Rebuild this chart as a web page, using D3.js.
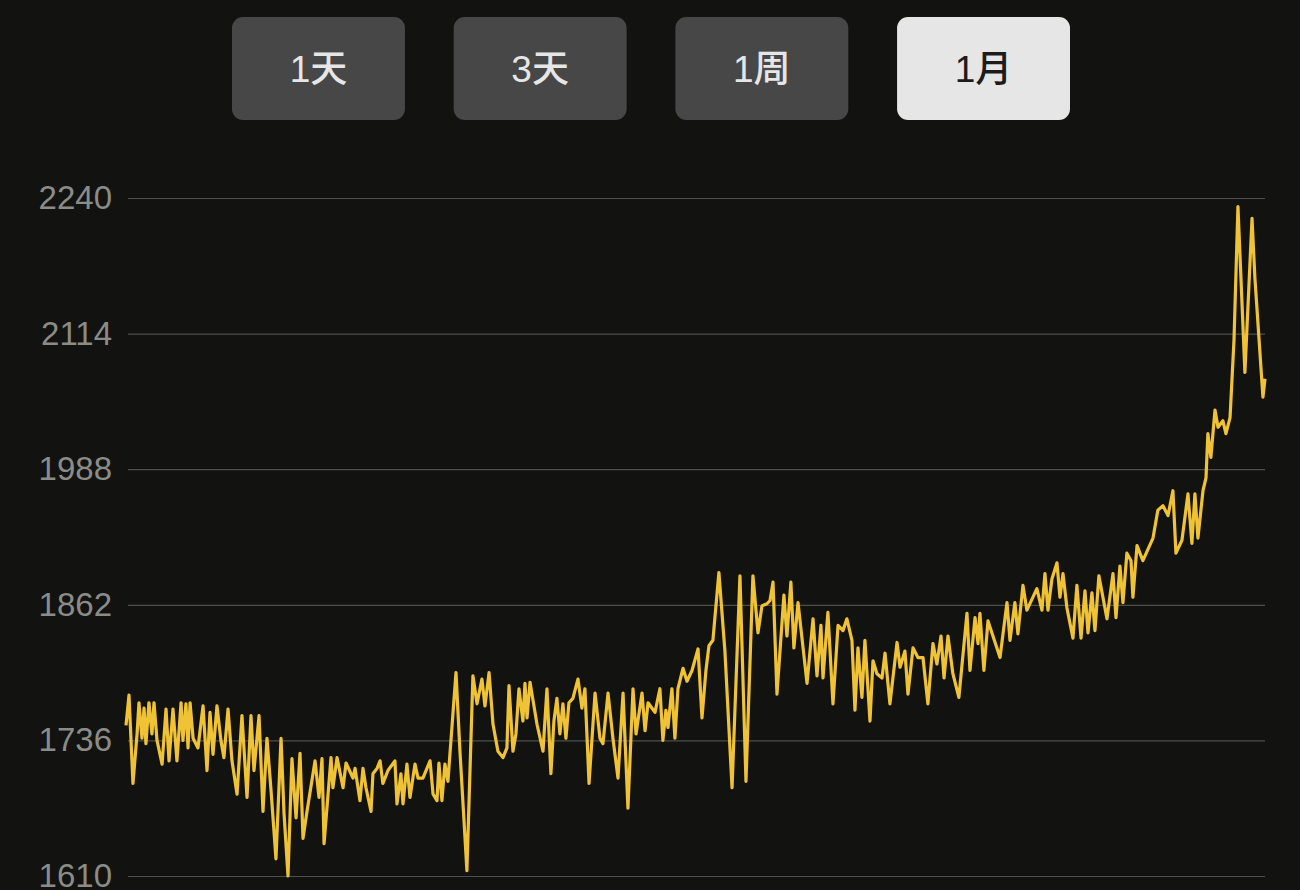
<!DOCTYPE html>
<html><head><meta charset="utf-8">
<script src="https://cdn.jsdelivr.net/npm/d3@7"></script>
<style>
html,body{margin:0;padding:0;background:#121310;}
svg{display:block;}
</style></head>
<body>
<svg id="c" width="1300" height="890"></svg>
<script>
const rangeLabels = ["1天", "3天", "1周", "1月"];
const activeRange = "1月";
const yTicks = [1610, 1736, 1862, 1988, 2114, 2240];
const hours = [0,1.9,4.4,7.0,8.2,10.1,11.4,12.6,14.5,16.4,17.7,19.6,22.8,25.3,27.2,29.7,32.2,34.8,36.0,37.9,39.2,40.5,42.4,45.5,48.7,51.2,53.1,55.0,57.5,60.0,61.9,64.5,67.0,70.2,73.3,76.5,79.0,80.9,84.1,86.6,89.1,91.7,94.8,98.0,99.9,102.4,104.9,107.5,110.0,111.9,114.4,119.5,122.0,123.9,125.2,129.6,130.8,133.4,137.2,139.1,143.5,144.8,147.9,149.8,151.7,154.9,156.1,158.7,160.6,162.4,165.6,170.0,171.3,173.8,175.1,177.6,179.5,182.7,184.6,187.7,192.2,194.1,196.6,197.8,199.7,201.6,203.5,208.6,211.1,215.5,219.3,221.9,225.0,226.9,229.5,232.0,235.1,238.3,240.8,242.1,244.6,246.5,248.4,250.9,252.2,253.5,255.4,259.8,263.6,266.1,268.6,270.5,272.4,274.3,276.2,278.1,280.0,282.5,285.7,288.2,290.1,292.7,296.5,299.6,301.5,304.7,307.8,311.0,314.2,317.3,320.5,322.4,326.2,328.1,330.0,334.4,337.5,339.4,341.3,342.6,345.1,347.0,348.9,352.1,354.6,357.8,361.6,364.1,366.6,368.5,371.0,374.8,378.6,383.1,388.1,391.9,396.3,399.5,402.0,405.2,407.1,409.0,411.5,415.9,417.8,420.3,422.2,424.8,430.5,434.3,436.8,439.3,440.6,443.7,446.9,450.1,453.2,455.7,458.9,460.8,462.7,465.2,467.1,470.3,472.2,474.7,477.9,479.8,482.9,487.4,489.3,492.4,494.3,497.5,500.6,503.8,506.9,510.1,512.6,515.2,517.1,519.6,522.7,526.5,531.6,533.5,536.7,538.6,539.8,542.3,544.9,552.5,556.9,558.8,561.9,563.8,567.0,569.5,575.8,579.0,580.9,582.8,585.3,588.5,590.4,592.3,594.8,598.6,601.1,603.7,606.2,608.1,610.6,612.5,615.0,620.1,623.9,625.8,628.3,630.2,632.7,635.3,636.5,639.1,642.8,649.2,652.3,655.5,658.7,661.8,663.7,667.5,671.3,673.8,675.7,677.6,680.8,682.7,683.9,685.8,688.4,690.3,693.4,695.3,697.9,700.4,702.9,707.3,711.8,713.6,718.7,720.0];
const prices = [1750,1778,1696,1742,1771,1738,1766,1733,1771,1742,1771,1736,1714,1765,1717,1765,1717,1771,1736,1770,1729,1771,1738,1729,1768,1708,1762,1723,1768,1736,1720,1765,1717,1686,1759,1683,1759,1708,1759,1670,1738,1689,1626,1738,1668,1610,1719,1664,1724,1645,1670,1717,1683,1719,1640,1720,1692,1720,1692,1715,1701,1710,1680,1710,1692,1670,1705,1710,1717,1696,1708,1717,1677,1705,1677,1714,1683,1714,1701,1701,1717,1686,1680,1715,1680,1714,1698,1799,1726,1615,1796,1770,1793,1768,1799,1751,1726,1720,1729,1787,1726,1742,1784,1754,1789,1757,1790,1751,1726,1784,1705,1754,1775,1742,1770,1738,1771,1775,1793,1766,1784,1696,1780,1738,1733,1780,1738,1701,1780,1673,1784,1742,1780,1745,1771,1762,1784,1736,1764,1748,1784,1738,1784,1803,1791,1801,1821,1757,1801,1824,1829,1892,1819,1692,1889,1698,1889,1836,1861,1863,1866,1883,1779,1871,1833,1883,1822,1864,1789,1849,1796,1843,1794,1855,1770,1843,1838,1849,1829,1764,1822,1776,1829,1754,1810,1798,1794,1817,1770,1827,1804,1819,1779,1822,1813,1813,1770,1826,1807,1833,1794,1833,1798,1776,1854,1801,1850,1826,1854,1801,1847,1813,1864,1829,1864,1835,1880,1857,1877,1857,1891,1857,1886,1901,1869,1891,1859,1831,1880,1831,1875,1836,1873,1838,1889,1849,1891,1850,1898,1864,1910,1903,1869,1917,1903,1924,1950,1954,1945,1968,1910,1922,1965,1919,1965,1924,1968,1980,2021,1999,2043,2027,2033,2021,2036,2108,2232,2078,2221,2166,2055,2072];

const svg = d3.select("#c");
const W = 1300, H = 890;
svg.append("rect").attr("width", W).attr("height", H).attr("fill", "#121310");

// range buttons
const btnX = d3.scaleBand().domain(rangeLabels).range([232, 1070]).paddingInner(0.22);
const btns = svg.append("g").selectAll("g").data(rangeLabels).join("g")
  .attr("transform", d => `translate(${btnX(d)},17)`);
btns.append("rect")
  .attr("width", btnX.bandwidth()).attr("height", 103).attr("rx", 11)
  .attr("fill", d => d === activeRange ? "#e6e6e6" : "#474747");
btns.append("text")
  .attr("x", btnX.bandwidth() / 2).attr("y", 52).attr("dy", "0.36em")
  .attr("text-anchor", "middle")
  .attr("font-family", "'Liberation Sans', 'Noto Sans CJK SC', sans-serif")
  .attr("font-size", 37)
  .attr("font-weight", 500)
  .attr("fill", d => d === activeRange ? "#1c1c1c" : "#e6e6e6")
  .text(d => d);

// chart
const x = d3.scaleLinear().domain([0, 720]).range([126, 1265]);
const y = d3.scaleLinear().domain([1610, 2240]).range([876, 198]);

const axis = d3.axisLeft(y).tickValues(yTicks).tickSize(-(1265 - 128)).tickPadding(16).tickFormat(d3.format("d"));
const gA = svg.append("g").attr("transform", "translate(128,0)").call(axis);
gA.select(".domain").remove();
gA.selectAll(".tick line").attr("stroke", "#4d4f4a").attr("stroke-width", 1.2);
gA.selectAll(".tick text")
  .attr("fill", "#8b8c87")
  .attr("font-family", "'Liberation Sans', Arial, sans-serif")
  .attr("font-size", 33);

const pts = hours.map((h, i) => [h, prices[i]]);
const line = d3.line().x(d => x(d[0])).y(d => y(d[1]));
svg.append("path").datum(pts)
  .attr("d", line)
  .attr("fill", "none")
  .attr("stroke", "#f0c235")
  .attr("stroke-width", 3.2)
  .attr("stroke-linejoin", "round");
</script>
</body></html>
